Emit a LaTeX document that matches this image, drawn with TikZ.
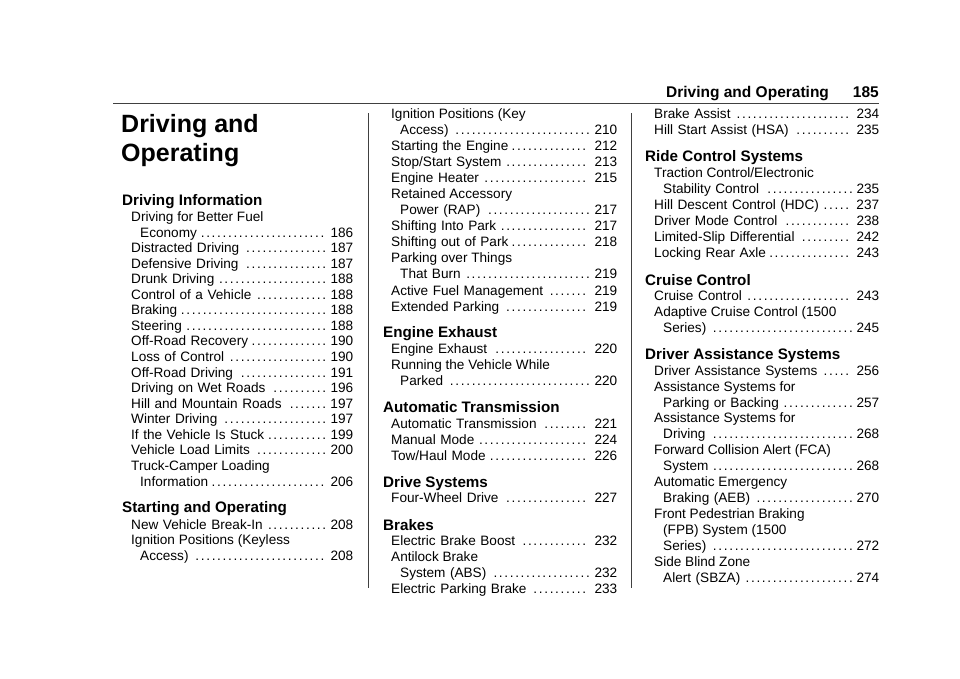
\documentclass[tikz,border=0pt]{standalone}
\usepackage{fontspec}
\setmainfont{Liberation Sans}
\newcounter{nc}
\newcommand{\lead}{\leaders\hbox to 0.40em{\hss.\hss}\hfill}
% \E{x}{right}{y}{text}{page}
\newcommand{\E}[5]{\stepcounter{nc}\node[ent,text width=#2pt-#1pt] (n\thenc) at (#1pt,-#3pt-4.8pt) {#4\,\lead\,#5};}
\newcommand{\T}[3]{\stepcounter{nc}\node[ent] (n\thenc) at (#1pt,-#2pt-4.8pt) {#3};}
\newcommand{\HD}[3]{\stepcounter{nc}\node[head] (n\thenc) at (#1pt,-#2pt-5.4pt) {#3};}
\begin{document}
\begin{tikzpicture}[x=1pt,y=1pt,
  ent/.style={anchor=base west,inner sep=0pt,font=\fontsize{13.6}{15}\selectfont,align=left},
  head/.style={anchor=base west,inner sep=0pt,font=\fontsize{15.2}{17}\selectfont\bfseries},
  rulel/.style={line width=0.9pt,black!75}]
\useasboundingbox (0,0) rectangle (960,-678);
\fill[white] (0,0) rectangle (960,-678);
% header
\node[anchor=base east,inner sep=0pt,font=\fontsize{15.5}{17}\selectfont\bfseries] (hdr) at (879,-97.5) {Driving and Operating\hspace{24pt}185};
\coordinate (rl) at (113,-103); \coordinate (rr) at (879,-103);
\draw[rulel] (rl) -- (rr);
\coordinate (d1a) at (368,-113); \coordinate (d1b) at (368,-588);
\coordinate (d2a) at (631,-113); \coordinate (d2b) at (631,-588);
\draw[rulel] (d1a) -- (d1b);
\draw[rulel] (d2a) -- (d2b);
\node[anchor=base west,inner sep=0pt,font=\fontsize{25}{28}\selectfont\bfseries] (title1) at (121,-132.5) {Driving and};
\node[anchor=base west,inner sep=0pt,font=\fontsize{25}{28}\selectfont\bfseries] (title2) at (121,-161.5) {Operating};
% column 1
\HD{122}{200}{Driving Information}
\T{131}{217}{Driving for Better Fuel}
\E{140}{353}{233}{Economy}{186}
\E{131}{353}{248}{Distracted Driving}{187}
\E{131}{353}{264}{Defensive Driving}{187}
\E{131}{353}{279}{Drunk Driving}{188}
\E{131}{353}{295}{Control of a Vehicle}{188}
\E{131}{353}{310}{Braking}{188}
\E{131}{353}{326}{Steering}{188}
\E{131}{353}{341}{Off-Road Recovery}{190}
\E{131}{353}{357}{Loss of Control}{190}
\E{131}{353}{373}{Off-Road Driving}{191}
\E{131}{353}{388}{Driving on Wet Roads}{196}
\E{131}{353}{404}{Hill and Mountain Roads}{197}
\E{131}{353}{419}{Winter Driving}{197}
\E{131}{353}{435}{If the Vehicle Is Stuck}{199}
\E{131}{353}{450}{Vehicle Load Limits}{200}
\T{131}{466}{Truck-Camper Loading}
\E{140}{353}{482}{Information}{206}
\HD{122}{507}{Starting and Operating}
\E{131}{353}{525}{New Vehicle Break-In}{208}
\T{131}{540}{Ignition Positions (Keyless}
\E{140}{353}{556}{Access)}{208}
% column 2
\T{391}{114}{Ignition Positions (Key}
\E{400}{617}{130}{Access)}{210}
\E{391}{617}{146}{Starting the Engine}{212}
\E{391}{617}{162}{Stop/Start System}{213}
\E{391}{617}{178}{Engine Heater}{215}
\T{391}{194}{Retained Accessory}
\E{400}{617}{210}{Power (RAP)}{217}
\E{391}{617}{226}{Shifting Into Park}{217}
\E{391}{617}{242}{Shifting out of Park}{218}
\T{391}{258}{Parking over Things}
\E{400}{617}{274}{That Burn}{219}
\E{391}{617}{291}{Active Fuel Management}{219}
\E{391}{617}{307}{Extended Parking}{219}
\HD{383}{332}{Engine Exhaust}
\E{391}{617}{349}{Engine Exhaust}{220}
\T{391}{365}{Running the Vehicle While}
\E{400}{617}{381}{Parked}{220}
\HD{383}{407}{Automatic Transmission}
\E{391}{617}{424}{Automatic Transmission}{221}
\E{391}{617}{440}{Manual Mode}{224}
\E{391}{617}{456}{Tow/Haul Mode}{226}
\HD{383}{482}{Drive Systems}
\E{391}{617}{498}{Four-Wheel Drive}{227}
\HD{383}{525}{Brakes}
\E{391}{617}{541}{Electric Brake Boost}{232}
\T{391}{557}{Antilock Brake}
\E{400}{617}{573}{System (ABS)}{232}
\E{391}{617}{589}{Electric Parking Brake}{233}
% column 3
\E{654}{879}{114}{Brake Assist}{234}
\E{654}{879}{130}{Hill Start Assist (HSA)}{235}
\HD{645}{156}{Ride Control Systems}
\T{654}{173}{Traction Control/Electronic}
\E{663}{879}{189}{Stability Control}{235}
\E{654}{879}{205}{Hill Descent Control (HDC)}{237}
\E{654}{879}{221}{Driver Mode Control}{238}
\E{654}{879}{237}{Limited-Slip Differential}{242}
\E{654}{879}{253}{Locking Rear Axle}{243}
\HD{645}{280}{Cruise Control}
\E{654}{879}{296}{Cruise Control}{243}
\T{654}{312}{Adaptive Cruise Control (1500}
\E{663}{879}{328}{Series)}{245}
\HD{645}{354}{Driver Assistance Systems}
\E{654}{879}{371}{Driver Assistance Systems}{256}
\T{654}{387}{Assistance Systems for}
\E{663}{879}{403}{Parking or Backing}{257}
\T{654}{418}{Assistance Systems for}
\E{663}{879}{434}{Driving}{268}
\T{654}{450}{Forward Collision Alert (FCA)}
\E{663}{879}{466}{System}{268}
\T{654}{482}{Automatic Emergency}
\E{663}{879}{498}{Braking (AEB)}{270}
\T{654}{514}{Front Pedestrian Braking}
\T{663}{530}{(FPB) System (1500}
\E{663}{879}{546}{Series)}{272}
\T{654}{562}{Side Blind Zone}
\E{663}{879}{578}{Alert (SBZA)}{274}
\end{tikzpicture}
\end{document}
